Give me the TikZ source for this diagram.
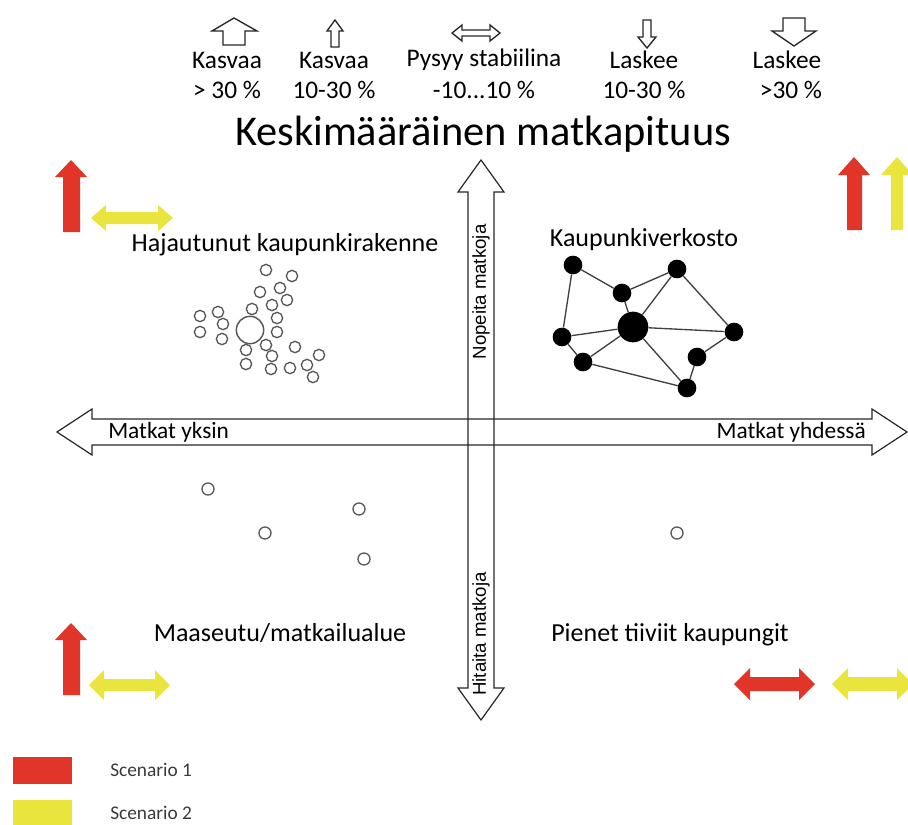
\documentclass[tikz,border=0pt]{standalone}
\usepackage{fontspec}
\setmainfont{Carlito}
\newfontfamily\arialf{Liberation Sans}
\definecolor{sred}{HTML}{E2352A}
\definecolor{syel}{HTML}{E9E53C}
\definecolor{lgray}{HTML}{3A3A3A}
\begin{document}
\begin{tikzpicture}[x=0.75pt,y=-0.75pt,
  outl/.style={draw=black!85, line width=1pt, fill=white, line join=miter},
  axisl/.style={draw=black!85, line width=0.9pt, line join=miter},
  redf/.style={fill=sred, draw=none},
  yelf/.style={fill=syel, draw=none},
  toplbl/.style={font=\fontsize{19}{22}\selectfont, inner sep=0pt},
  quadlbl/.style={font=\fontsize{19.5}{23}\selectfont, inner sep=0pt},
  axlbl/.style={font=\fontsize{17.5}{21}\selectfont, inner sep=0pt},
  vlbl/.style={font=\arialf\fontsize{14}{17}\selectfont, inner sep=0pt, rotate=90},
  legl/.style={font=\fontsize{14.5}{17}\selectfont, text=lgray, inner sep=0pt, anchor=west},
  oc/.style={circle, draw=black!65, line width=1pt, fill=white, minimum size=8.5pt, inner sep=0pt},
  ocl/.style={circle, draw=black!65, line width=1pt, fill=white, minimum size=9pt, inner sep=0pt},
  bigoc/.style={circle, draw=black!65, line width=1.1pt, fill=white, minimum size=20.5pt, inner sep=0pt},
  nd/.style={circle, fill=black, minimum size=14pt, inner sep=0pt},
  bignd/.style={circle, fill=black, minimum size=23pt, inner sep=0pt},
  edge/.style={draw=black!75, line width=1pt}
]
\useasboundingbox (0,0) rectangle (908,825);

% ---- top legend arrows (outlined) ----
\draw[outl] (223,45) -- (223,31) -- (212,31) -- (234,18) -- (257,31) -- (245,31) -- (245,45) -- cycle;
\draw[outl] (331,47) -- (331,31) -- (327,31) -- (335,20) -- (343,31) -- (339,31) -- (339,47) -- cycle;
\draw[outl] (452,33) -- (462,25) -- (462,30) -- (490,30) -- (490,25) -- (500,33) -- (490,41) -- (490,36) -- (462,36) -- (462,41) -- cycle;
\draw[outl] (643,20) -- (651,20) -- (651,37) -- (656,37) -- (647,48) -- (638,37) -- (643,37) -- cycle;
\draw[outl] (783,18) -- (805,18) -- (805,31) -- (816,31) -- (794,46) -- (772,31) -- (783,31) -- cycle;

\node[toplbl] (t1a) at (227,60) {Kasvaa};
\node[toplbl] (t1b) at (227,90) {> 30 \%};
\node[toplbl] (t2a) at (334,60) {Kasvaa};
\node[toplbl] (t2b) at (334,90) {10-30 \%};
\node[toplbl] (t3a) at (484,60) {Pysyy stabiilina};
\node[toplbl] (t3b) at (484,90) {-10...10 \%};
\node[toplbl] (t4a) at (644,60) {Laskee};
\node[toplbl] (t4b) at (644,90) {10-30 \%};
\node[toplbl] (t5a) at (787,60) {Laskee};
\node[toplbl] (t5b) at (791,90) {>30 \%};

\node[font=\fontsize{31.8}{38}\selectfont, inner sep=0pt] (title) at (483,134) {Keskimääräinen matkapituus};

% ---- axes ----
\draw[axisl] (57,432) -- (92,409) -- (92,419) -- (872,419) -- (872,409) -- (907,432) -- (872,455) -- (872,445) -- (92,445) -- (92,455) -- cycle;
\draw[axisl] (481,160) -- (504,192) -- (494,192) -- (494,688) -- (504,688) -- (481,720) -- (458,688) -- (468,688) -- (468,192) -- (458,192) -- cycle;

\node[axlbl, anchor=west] (my) at (108,432) {Matkat yksin};
\node[axlbl, anchor=east] (myh) at (866,432) {Matkat yhdessä};
\node[vlbl] (nop) at (481,292) {Nopeita matkoja};
\node[vlbl] (hit) at (481,634) {Hitaita matkoja};

% ---- quadrant labels ----
\node[quadlbl] (q1) at (285,245) {Hajautunut kaupunkirakenne};
\node[quadlbl] (q2) at (644,240) {Kaupunkiverkosto};
\node[quadlbl] (q3) at (280,633) {Maaseutu/matkailualue};
\node[quadlbl] (q4) at (670,635) {Pienet tiiviit kaupungit};

% ---- scattered settlement ----
\node[bigoc] (big) at (250,330) {};
\foreach \n/\p in {1/{266,270},2/{292,276},3/{260,292},4/{280,288},5/{287,300},6/{272,305},
  7/{252,309},8/{277,318},9/{200,316},10/{218,312},11/{223,324},12/{200,332},13/{277,332},
  14/{222,339},15/{266,345},16/{246,350},17/{272,356},18/{295,347},19/{319,355},20/{246,364},
  21/{271,369},22/{290,368},23/{307,365},24/{313,377}}
  \node[oc] (s\n) at (\p) {};

% ---- rural / small towns ----
\node[ocl] (r1) at (208,489) {};
\node[ocl] (r2) at (265,533) {};
\node[ocl] (r3) at (359,509) {};
\node[ocl] (r4) at (364,559) {};
\node[ocl] (r5) at (677,533) {};

% ---- network ----
\node[nd] (A) at (573,265) {};
\node[nd] (B) at (677,269) {};
\node[nd] (C) at (622,293) {};
\node[bignd] (D) at (633,327) {};
\node[nd] (E) at (562,337) {};
\node[nd] (F) at (734,332) {};
\node[nd] (G) at (583,362) {};
\node[nd] (H) at (697,357) {};
\node[nd] (I) at (687,388) {};
\foreach \a/\b in {A/E,A/C,C/B,C/D,B/D,B/F,D/E,D/F,D/G,D/I,E/G,G/I,I/H,H/F}
  \draw[edge] (\a) -- (\b);

% ---- scenario arrows ----
% top-left
\fill[redf] (63,232) -- (63,177) -- (55,177) -- (71,160) -- (87,177) -- (80,177) -- (80,232) -- cycle;
\fill[yelf] (91,218) -- (106,205) -- (106,212) -- (158,212) -- (158,205) -- (173,218) -- (158,231) -- (158,224) -- (106,224) -- (106,231) -- cycle;
% top-right
\fill[redf] (847,230) -- (847,175) -- (838,175) -- (854,157) -- (870,175) -- (862,175) -- (862,230) -- cycle;
\fill[yelf] (891,230) -- (891,175) -- (881,175) -- (897,157) -- (913,175) -- (903,175) -- (903,230) -- cycle;
% bottom-left
\fill[redf] (63,695) -- (63,640) -- (55,640) -- (71,623) -- (87,640) -- (80,640) -- (80,695) -- cycle;
\fill[yelf] (89,685) -- (104,670) -- (104,679) -- (155,679) -- (155,670) -- (170,685) -- (155,700) -- (155,691) -- (104,691) -- (104,700) -- cycle;
% bottom-right
\fill[redf] (734,684) -- (750,668) -- (750,677) -- (799,677) -- (799,668) -- (815,684) -- (799,700) -- (799,691) -- (750,691) -- (750,700) -- cycle;
\fill[yelf] (832,684) -- (848,668) -- (848,677) -- (897,677) -- (897,668) -- (913,684) -- (897,700) -- (897,691) -- (848,691) -- (848,700) -- cycle;

% ---- legend ----
\node[fill=sred, minimum width=44pt, minimum height=20pt, inner sep=0pt, anchor=north west] (leg1) at (13,757) {};
\node[fill=syel, minimum width=44pt, minimum height=20pt, inner sep=0pt, anchor=north west] (leg2) at (13,800) {};
\node[legl] (lt1) at (110,770) {Scenario 1};
\node[legl] (lt2) at (110,813) {Scenario 2};
\end{tikzpicture}
\end{document}
